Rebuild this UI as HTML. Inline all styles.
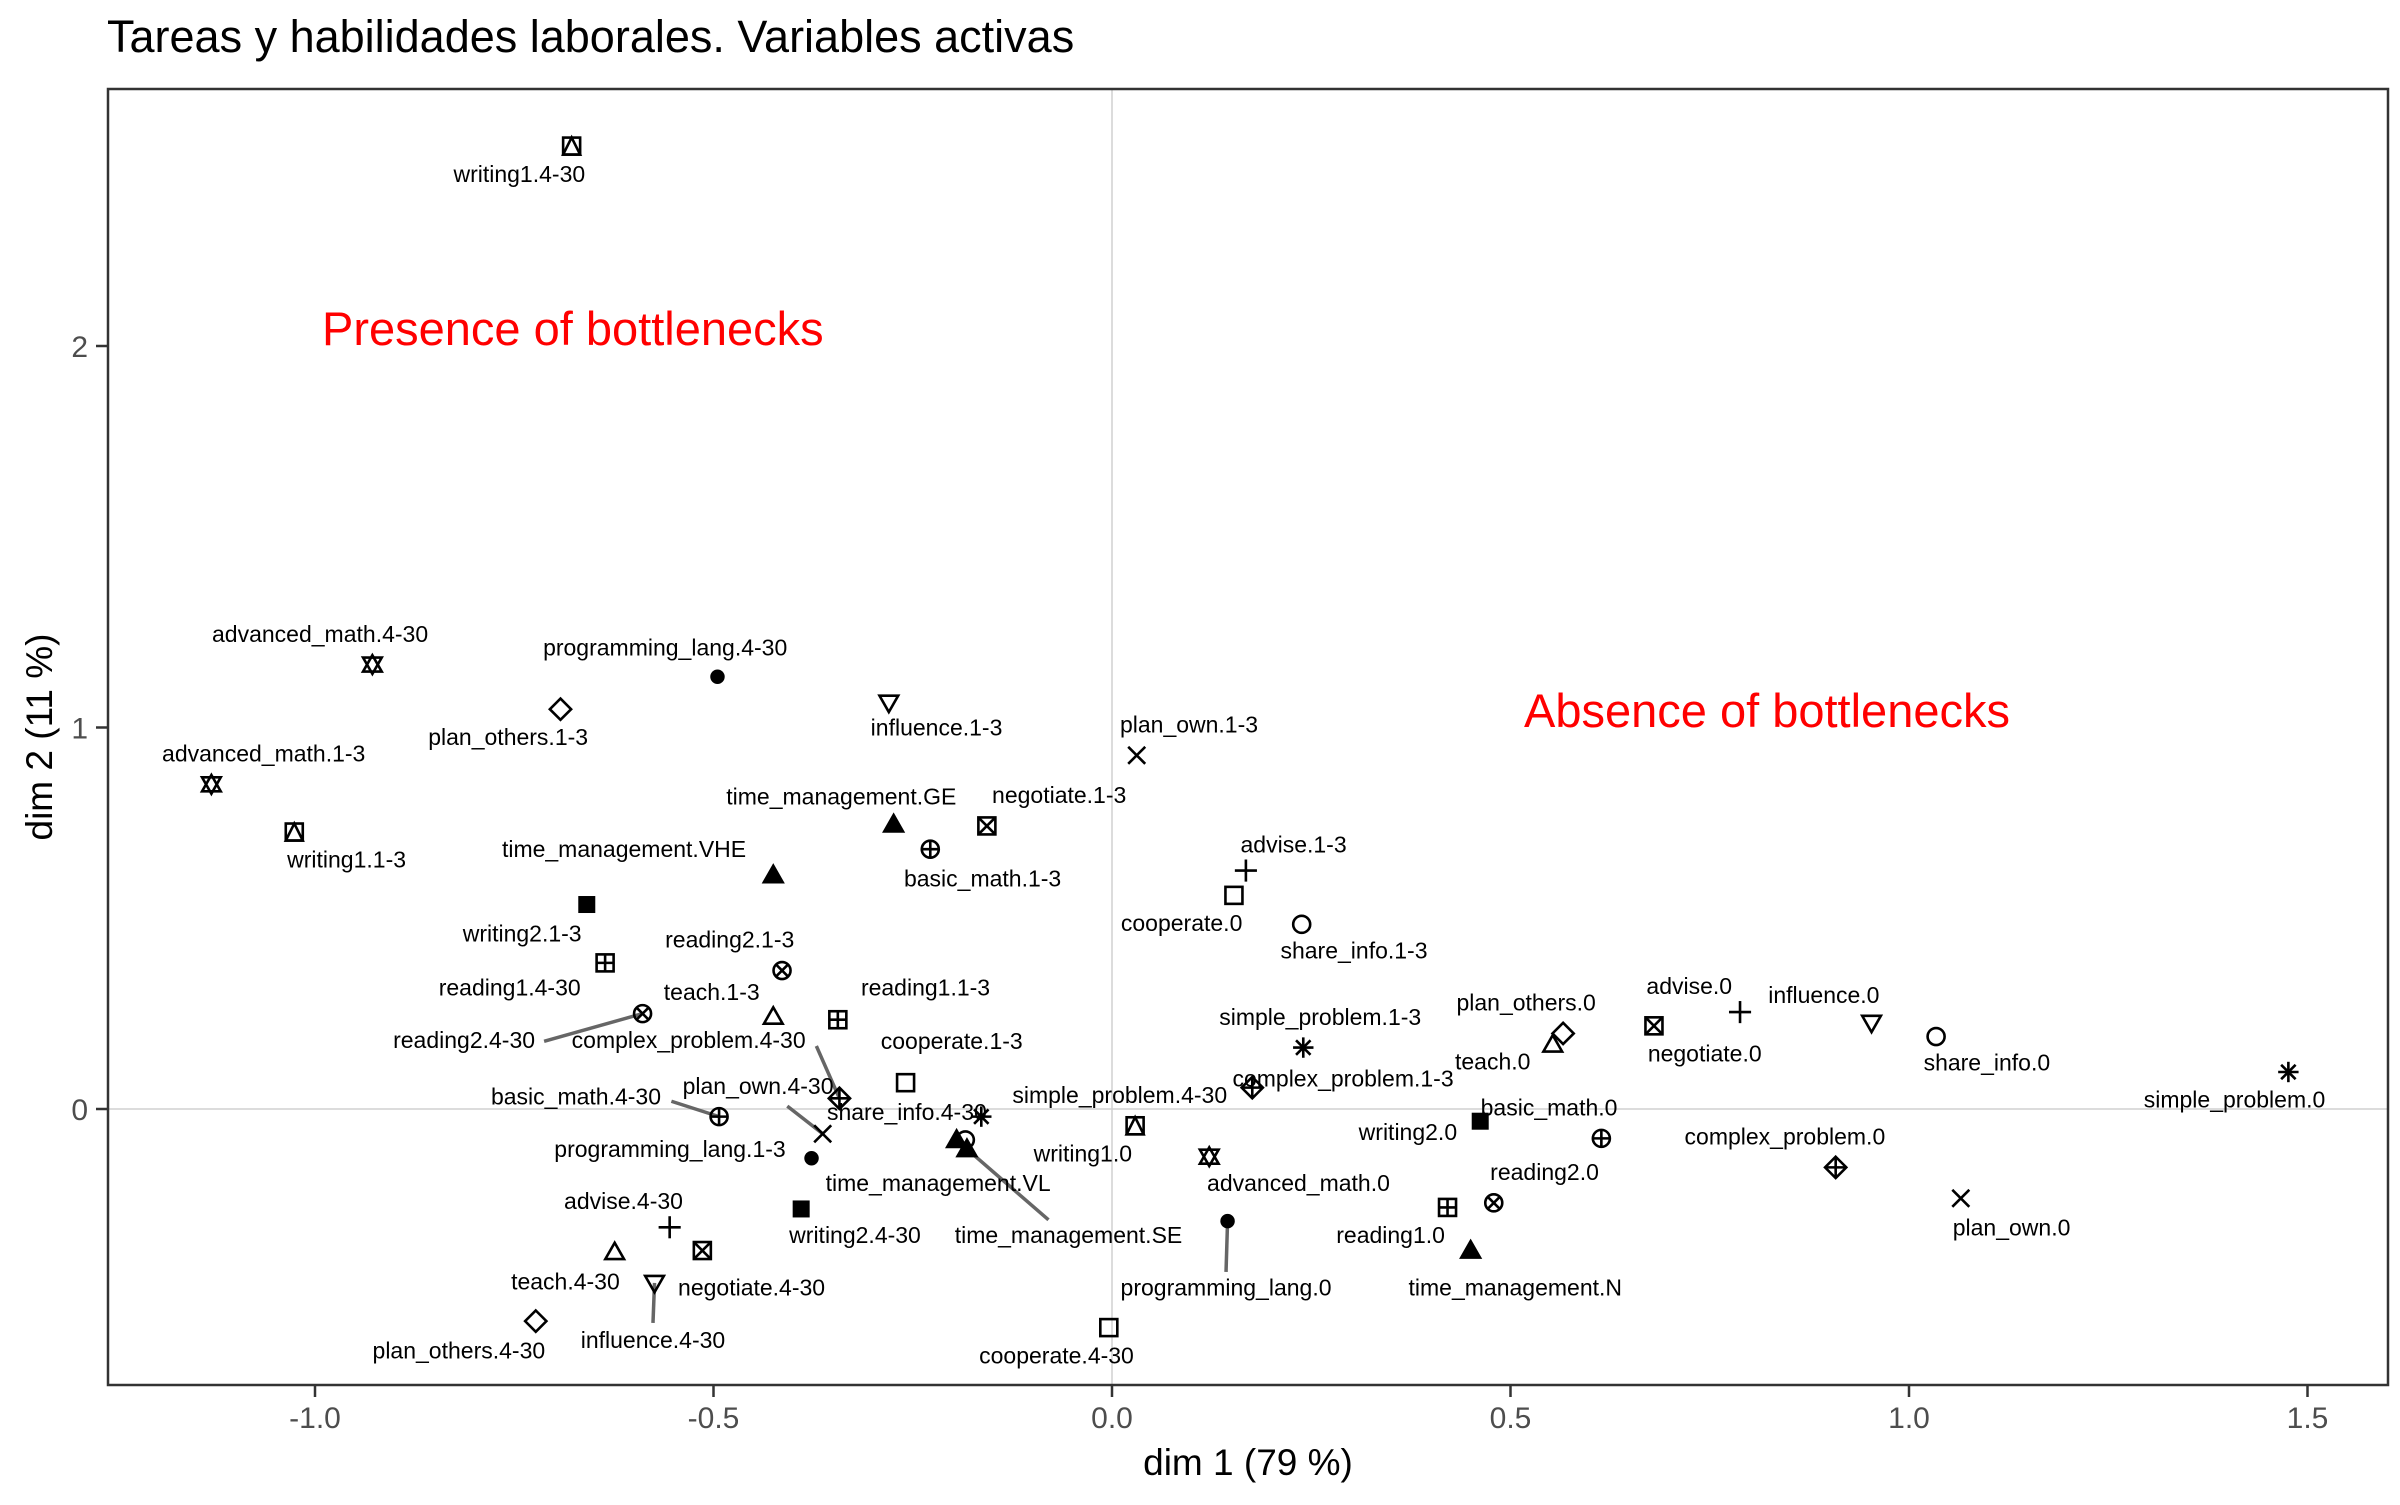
<!DOCTYPE html>
<html><head><meta charset="utf-8"><style>
body{margin:0;background:#fff;}
svg text{font-family:"Liberation Sans",sans-serif;}
</style></head><body>
<svg id="chart" width="2400" height="1500" viewBox="0 0 2400 1500" xmlns="http://www.w3.org/2000/svg">
<rect x="0" y="0" width="2400" height="1500" fill="#fff"/>
<text x="107" y="52" font-size="45" fill="#000">Tareas y habilidades laborales. Variables activas</text>
<g id="grid"></g>
<g id="segs"></g>
<g id="pts"></g>
<g id="labs"></g>
<rect x="108" y="89" width="2280" height="1296" fill="none" stroke="#333" stroke-width="2.5"/>
<g id="axes"></g>
<text x="322" y="345" font-size="47" fill="#ff0000">Presence of bottlenecks</text>
<text x="1524" y="727" font-size="47" fill="#ff0000">Absence of bottlenecks</text>
<text x="1248" y="1475" font-size="37" text-anchor="middle" fill="#000">dim 1 (79 %)</text>
<text transform="translate(52,737) rotate(-90)" font-size="37" text-anchor="middle" fill="#000">dim 2 (11 %)</text>
</svg>
<script>
const labels=["writing1.4-30","advanced_math.4-30","advanced_math.1-3","writing1.1-3","programming_lang.4-30","plan_others.1-3","influence.1-3","plan_own.1-3","time_management.GE","negotiate.1-3","basic_math.1-3","time_management.VHE","advise.1-3","cooperate.0","share_info.1-3","writing2.1-3","reading2.1-3","reading1.4-30","teach.1-3","reading1.1-3","reading2.4-30","complex_problem.4-30","cooperate.1-3","simple_problem.4-30","share_info.4-30","plan_own.4-30","basic_math.4-30","programming_lang.1-3","time_management.VL","time_management.SE","writing1.0","advanced_math.0","writing2.4-30","advise.4-30","negotiate.4-30","teach.4-30","influence.4-30","plan_others.4-30","cooperate.4-30","programming_lang.0","simple_problem.1-3","complex_problem.1-3","plan_others.0","teach.0","advise.0","negotiate.0","influence.0","share_info.0","simple_problem.0","basic_math.0","writing2.0","reading2.0","complex_problem.0","plan_own.0","reading1.0","time_management.N"];
const dim1=[-0.678,-0.928,-1.130,-1.026,-0.495,-0.692,-0.280,0.031,-0.274,-0.157,-0.228,-0.425,0.168,0.153,0.238,-0.659,-0.414,-0.636,-0.425,-0.344,-0.589,-0.342,-0.259,-0.164,-0.184,-0.363,-0.493,-0.377,-0.195,-0.182,0.029,0.122,-0.390,-0.555,-0.514,-0.624,-0.574,-0.723,-0.004,0.145,0.240,0.176,0.566,0.553,0.788,0.680,0.953,1.034,1.476,0.614,0.462,0.479,0.908,1.065,0.421,0.450];
const dim2=[2.524,1.165,0.851,0.726,1.133,1.048,1.065,0.927,0.746,0.742,0.681,0.613,0.625,0.560,0.484,0.536,0.363,0.383,0.242,0.234,0.250,0.028,0.069,-0.020,-0.081,-0.065,-0.020,-0.129,-0.081,-0.105,-0.044,-0.125,-0.262,-0.310,-0.371,-0.375,-0.456,-0.556,-0.573,-0.294,0.161,0.056,0.198,0.169,0.254,0.218,0.226,0.190,0.097,-0.077,-0.032,-0.246,-0.153,-0.234,-0.258,-0.371];
const xTicks=[-1.0,-0.5,0.0,0.5,1.0,1.5];
const yTicks=[0,1,2];
// layout: label offsets (screen units) and repel segment end offsets
const lo=[[-34,18],[-34,-20],[34,-20],[34,18],[-34,-19],[-34,18],[31,16],[34,-20],[-34,-18],[47,-20],[34,19],[-97,-17],[31,-17],[-34,18],[34,17],[-42,19],[-34,-20],[-62,16],[-40,-16],[57,-21],[-116,17],[-98,-38],[30,-27],[90,-14],[-38,-18],[-42,-31],[-93,-13],[-92,-6],[-12,28],[66,56],[-34,18],[58,17],[35,17],[-30,-17],[32,24],[-32,19],[-1,37],[-50,19],[-34,18],[-1,43],[11,-20],[59,-6],[-24,-20],[-39,11],[-33,-17],[33,18],[-31,-18],[33,17],[-35,18],[-34,-20],[-47,7],[33,-20],[-33,-20],[33,19],[-37,18],[29,24]];
const segEnd={20:[-64,18],21:[-15,-34],25:[-23,-18],26:[-31,-10],29:[53,46],36:[-1,26],39:[-1,33]};
const shapeOf={writing1:14,advanced_math:11,programming_lang:16,plan_others:5,influence:6,plan_own:4,time_management:17,negotiate:7,basic_math:10,advise:3,cooperate:0,share_info:1,writing2:15,reading1:12,reading2:13,teach:2,complex_problem:9,simple_problem:8};
const S=1.5385, X0=1112, XU=797, Y0=1109, YU=381.5;
const xs=v=>X0+v*XU, ys=v=>Y0-v*YU;
const NS="http://www.w3.org/2000/svg";
function mk(tag,attrs,parent){const e=document.createElementNS(NS,tag);for(const k in attrs)e.setAttribute(k,attrs[k]);parent.appendChild(e);return e;}
const grid=document.getElementById('grid'),axes=document.getElementById('axes');
let g1=mk('line',{x1:xs(0),x2:xs(0),y1:89,y2:1385,stroke:'#d0d0d0','stroke-width':1.5},grid);


let g2=mk('line',{x1:108,x2:2388,y1:ys(0),y2:ys(0),stroke:'#d0d0d0','stroke-width':1.5},grid);


xTicks.forEach(t=>{
 const tk=mk('line',{x1:xs(t),x2:xs(t),y1:1385,y2:1397,stroke:'#333','stroke-width':2.5},axes);
 
 
 const tl=mk('text',{x:xs(t),y:1428,'font-size':30,'text-anchor':'middle',fill:'#4d4d4d'},axes);
 tl.textContent=t.toFixed(1);
 
 
});
yTicks.forEach(t=>{
 const tk=mk('line',{x1:96,x2:108,y1:ys(t),y2:ys(t),stroke:'#333','stroke-width':2.5},axes);
 
 
 const tl=mk('text',{x:88,y:ys(t)+11,'font-size':30,'text-anchor':'end',fill:'#4d4d4d'},axes);
 tl.textContent=String(t);
 
 
});
function drawShape(g,sh,cx,cy){
 const s=8.5,st={fill:'none',stroke:'#000','stroke-width':2.6};
 const sq=()=>mk('rect',Object.assign({x:cx-s,y:cy-s,width:2*s,height:2*s},st),g);
 const ci=()=>mk('circle',Object.assign({cx:cx,cy:cy,r:s},st),g);
 const ln=(a,b,c,d)=>mk('line',Object.assign({x1:a,y1:b,x2:c,y2:d},st),g);
 const tri=(up,fill)=>{const h=s*1.1;const p=up?`${cx},${cy-h} ${cx-h},${cy+h*0.75} ${cx+h},${cy+h*0.75}`:`${cx},${cy+h} ${cx-h},${cy-h*0.75} ${cx+h},${cy-h*0.75}`;mk('polygon',Object.assign({points:p},st,fill?{fill:'#000'}:{}),g);};
 const dia=()=>mk('polygon',Object.assign({points:`${cx},${cy-s*1.25} ${cx+s*1.25},${cy} ${cx},${cy+s*1.25} ${cx-s*1.25},${cy}`},st),g);
 switch(sh){
  case 0:sq();break;
  case 1:ci();break;
  case 2:tri(true);break;
  case 3:ln(cx-s*1.3,cy,cx+s*1.3,cy);ln(cx,cy-s*1.3,cx,cy+s*1.3);break;
  case 4:ln(cx-s,cy-s,cx+s,cy+s);ln(cx-s,cy+s,cx+s,cy-s);break;
  case 5:dia();break;
  case 6:tri(false);break;
  case 7:sq();ln(cx-s,cy-s,cx+s,cy+s);ln(cx-s,cy+s,cx+s,cy-s);break;
  case 8:ln(cx-s*1.2,cy,cx+s*1.2,cy);ln(cx,cy-s*1.2,cx,cy+s*1.2);ln(cx-s*.85,cy-s*.85,cx+s*.85,cy+s*.85);ln(cx-s*.85,cy+s*.85,cx+s*.85,cy-s*.85);break;
  case 9:dia();ln(cx-s*1.25,cy,cx+s*1.25,cy);ln(cx,cy-s*1.25,cx,cy+s*1.25);break;
  case 10:ci();ln(cx-s,cy,cx+s,cy);ln(cx,cy-s,cx,cy+s);break;
  case 11:tri(true);tri(false);break;
  case 12:sq();ln(cx-s,cy,cx+s,cy);ln(cx,cy-s,cx,cy+s);break;
  case 13:ci();ln(cx-s*.7,cy-s*.7,cx+s*.7,cy+s*.7);ln(cx-s*.7,cy+s*.7,cx+s*.7,cy-s*.7);break;
  case 14:sq();mk('polygon',Object.assign({points:`${cx},${cy-s} ${cx-s},${cy+s} ${cx+s},${cy+s}`},st),g);break;
  case 15:mk('rect',{x:cx-s,y:cy-s,width:2*s,height:2*s,fill:'#000'},g);break;
  case 16:mk('circle',{cx:cx,cy:cy,r:s*0.85,fill:'#000'},g);break;
  case 17:tri(true,true);break;
 }
}
const pts=document.getElementById('pts'),labs=document.getElementById('labs'),segs=document.getElementById('segs');
labels.forEach((lab,i)=>{
 const cx=xs(dim1[i]),cy=ys(dim2[i]);
 const v=lab.split('.')[0];
 const g=mk('g',{},pts);
 
 
 drawShape(g,shapeOf[v],cx,cy);
 if(segEnd[i]){
  const e=segEnd[i];
  const sl=mk('line',{x1:cx,y1:cy,x2:cx+e[0]*S,y2:cy+e[1]*S,stroke:'#666','stroke-width':3.5},segs);
  
  
 }
 const o=lo[i];
 const t=mk('text',{x:cx+o[0]*S,y:cy+o[1]*S+8,'font-size':23,'text-anchor':'middle',fill:'#000'},labs);
 t.textContent=lab;
 
 
});
</script>
</body></html>
